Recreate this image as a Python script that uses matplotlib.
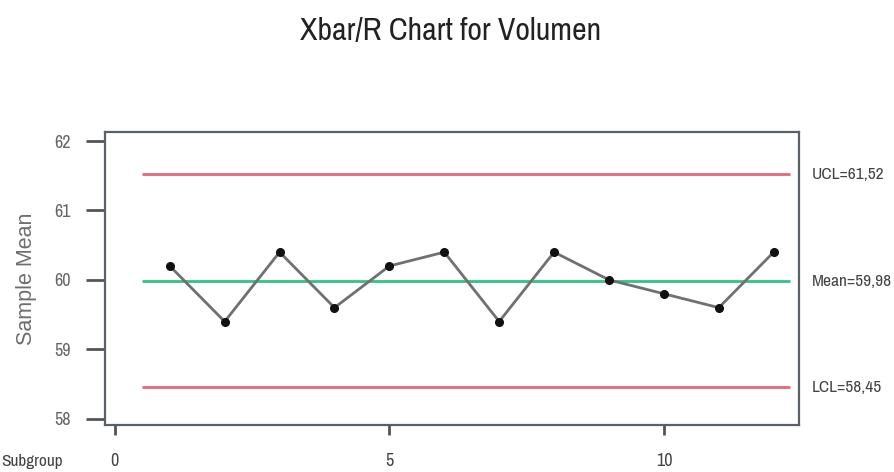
import matplotlib
matplotlib.use("Agg")
import matplotlib.pyplot as plt

# subgroup means of Volumen
subgroups = [1, 2, 3, 4, 5, 6, 7, 8, 9, 10, 11, 12]
means = [60.2, 59.4, 60.4, 59.6, 60.2, 60.4, 59.4, 60.4, 60.0, 59.8, 59.6, 60.4]
ucl = 61.52
center = 59.98
lcl = 58.45
limit_labels = ['UCL=61,52', 'Mean=59,98', 'LCL=58,45']
x_ticks = [0, 5, 10]
y_ticks = [58, 59, 60, 61, 62]

narrow = ['Liberation Sans Narrow', 'Archivo Narrow', 'PT Sans Narrow',
          'Roboto Condensed', 'DejaVu Sans']
plt.rcParams['font.family'] = ['Liberation Sans', 'DejaVu Sans']

fig = plt.figure(figsize=(8.95, 4.72), dpi=100)
ax = fig.add_axes([0.1173, 0.0996, 0.7754, 0.6207])

ax.hlines([ucl, lcl], 0.5, 12.3, color='#e4677a', lw=2)
ax.hlines(center, 0.5, 12.3, color='#2fc486', lw=2)
ax.plot(subgroups, means, color='#707070', lw=2, marker='o',
        markersize=5.5, markerfacecolor='#111111', markeredgecolor='#111111')

ax.set_xlim(-0.18, 12.46)
ax.set_ylim(57.91, 62.13)
ax.set_xticks(x_ticks)
ax.set_yticks(y_ticks)
ax.set_xticklabels([str(t) for t in x_ticks], family=narrow, fontsize=13, color='#444444')
ax.set_yticklabels([str(t) for t in y_ticks], family=narrow, fontsize=13, color='#666666')
ax.tick_params(axis='y', length=14, width=2, color='#555555', pad=11)
ax.tick_params(axis='x', length=7, width=2, color='#555555', pad=13)
for s in ax.spines.values():
    s.set_color('#5a6068')
    s.set_linewidth(1.6)

ax.set_ylabel('Sample Mean', fontsize=15.5, color='#6e6e6e', labelpad=12)

# limit labels to the right of the frame
for val, txt in zip([ucl, center, lcl], limit_labels):
    ax.text(1.018, val, txt, transform=ax.get_yaxis_transform(),
            va='center', ha='left', family=narrow, fontsize=12.5, color='#444444')

fig.text(0.001, 0.022, 'Subgroup', family=narrow, fontsize=12.5, color='#444444', va='center')
fig.suptitle('Xbar/R Chart for Volumen', x=0.503, y=0.965, family=narrow,
             fontsize=23, color='#222222')

fig.savefig('out.png', dpi=100, facecolor='white')
